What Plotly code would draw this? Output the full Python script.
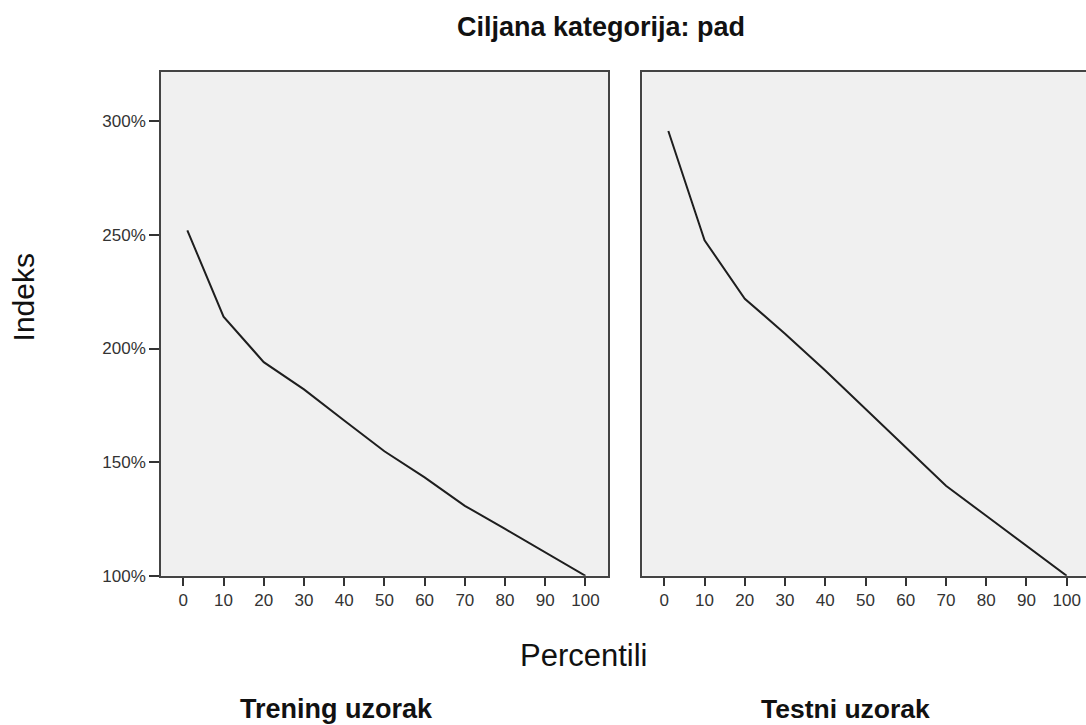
import plotly.graph_objects as go

percentiles = [1, 10, 20, 30, 40, 50, 60, 70, 80, 90, 100]
train_index = [252, 214, 194, 182, 168.3, 154.8, 143.3, 130.8, 120.6, 110.3, 100]
test_index = [295.7, 247.6, 221.9, 206.5, 190.3, 173.4, 156.5, 139.6, 126.4, 113.2, 100]
x_ticks = [0, 10, 20, 30, 40, 50, 60, 70, 80, 90, 100]
y_ticks = [100, 150, 200, 250, 300]
y_labels = ["100%", "150%", "200%", "250%", "300%"]

W, H = 1086, 725
HE = 714  # effective vertical scale observed in the rendered picture
FONT = "Liberation Sans, Arial, sans-serif"
fig = go.Figure()
fig.add_trace(go.Scatter(x=percentiles, y=train_index, mode="lines",
                         line=dict(color="#1e1e1e", width=2), xaxis="x", yaxis="y",
                         showlegend=False, hoverinfo="skip"))
fig.add_trace(go.Scatter(x=percentiles, y=test_index, mode="lines",
                         line=dict(color="#1e1e1e", width=2), xaxis="x2", yaxis="y2",
                         showlegend=False, hoverinfo="skip"))

axis_common = dict(showgrid=False, zeroline=False, showline=True, linecolor="#444444",
                   linewidth=1.6, tickcolor="#333333", tickwidth=1.6,
                   tickfont=dict(family=FONT, size=17, color="#333333"))
yr = [100, 321.6]
ydom = [1 - 575 / HE, 1 - 72 / HE]
fig.update_layout(
    width=W, height=H, margin=dict(l=0, r=0, t=0, b=0),
    paper_bgcolor="white", plot_bgcolor="#f0f0f0",
    xaxis=dict(domain=[161 / W, 608 / W], range=[-5.55, 105.6], tickvals=x_ticks,
               mirror=True, ticks="outside", ticklen=8, anchor="y", **axis_common),
    yaxis=dict(domain=ydom, range=yr, tickvals=y_ticks, ticktext=y_labels,
               mirror=True, ticks="outside", ticklen=10, anchor="x", **axis_common),
    xaxis2=dict(domain=[642.3 / W, 1.0], range=[-5.47, 104.8], tickvals=x_ticks,
                mirror=True, ticks="outside", ticklen=8, anchor="y2", **axis_common),
    yaxis2=dict(domain=ydom, range=yr, tickvals=y_ticks,
                showticklabels=False, mirror=False, ticks="", anchor="x2", **axis_common),
)

ann = [
    dict(text="<b>Ciljana kategorija: pad</b>", x=601, y=27, size=27),
    dict(text="Percentili", x=583.5, y=655, size=31),
    dict(text="<b>Trening uzorak</b>", x=336, y=708, size=27),
    dict(text="<b>Testni uzorak</b>", x=845, y=708, size=26.5),
]
for a in ann:
    fig.add_annotation(text=a["text"], x=a["x"] / W, y=1 - a["y"] / HE,
                       xref="paper", yref="paper", showarrow=False,
                       xanchor="center", yanchor="middle",
                       font=dict(family=FONT, size=a["size"], color="#111111"))
fig.add_annotation(text="Indeks", x=23 / W, y=1 - 297 / HE, xref="paper", yref="paper",
                   showarrow=False, textangle=-90, xanchor="center", yanchor="middle",
                   font=dict(family=FONT, size=30, color="#111111"))

fig.write_html("out.html", config={"displayModeBar": False},
               post_script="document.body.style.margin='0';document.body.style.padding='0';")
